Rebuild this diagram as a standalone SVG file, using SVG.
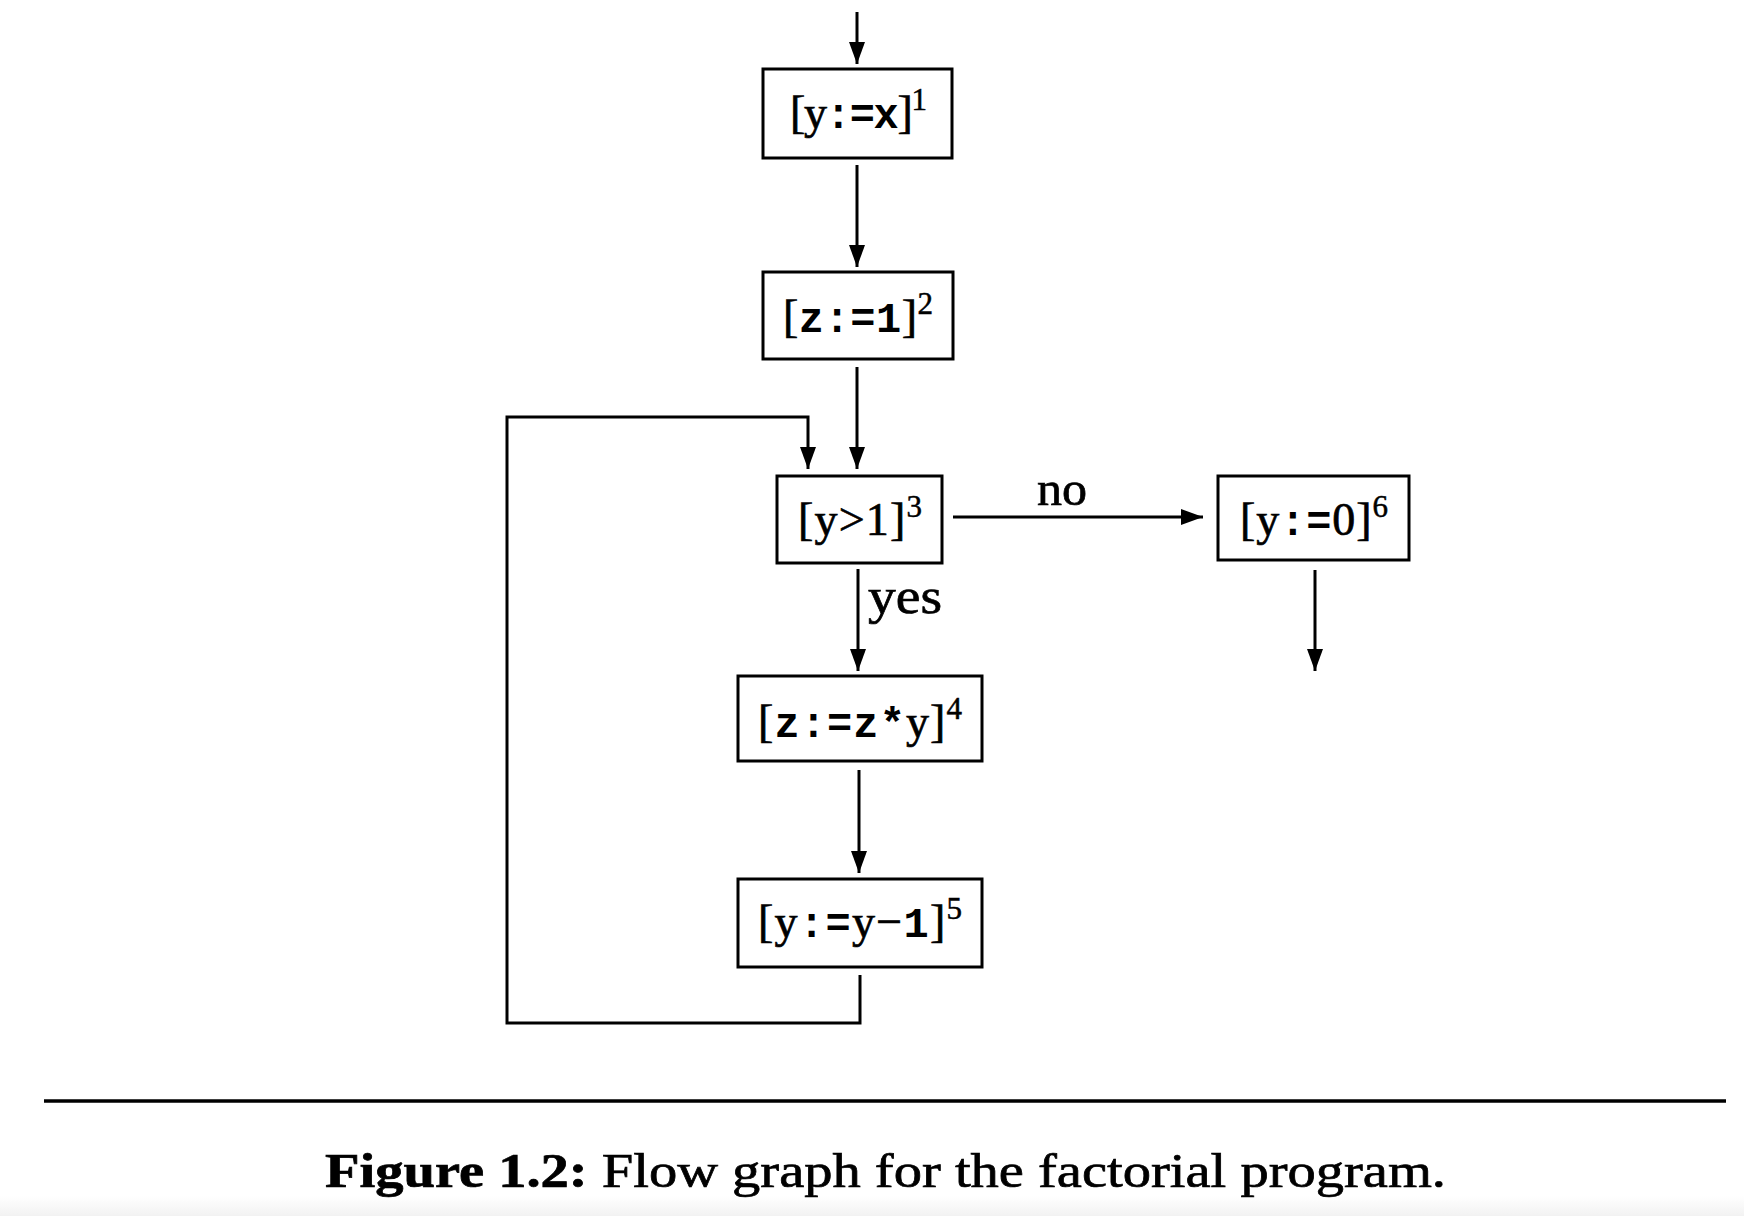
<svg xmlns="http://www.w3.org/2000/svg" width="1744" height="1216" viewBox="0 0 1744 1216">
<style>
.box{fill:#fff;stroke:#000;stroke-width:3}
.edge{fill:none;stroke:#000;stroke-width:3}
.lbl{font-family:"Liberation Serif",serif;fill:#000;stroke:#000;stroke-width:0.7}
.rm{font-family:"Liberation Serif",serif;font-size:46px;stroke:#000;stroke-width:0.7}
.tt{font-family:"Liberation Mono",monospace;font-weight:bold;font-size:42px}
.sup{font-family:"Liberation Serif",serif;font-size:31px;stroke:#000;stroke-width:0.5}
</style>
<defs>
<marker id="ah" markerUnits="userSpaceOnUse" markerWidth="24" markerHeight="18" refX="22" refY="8" orient="auto">
<path d="M0,0 L22,8 L0,16 Z" fill="#000"/>
</marker>
<linearGradient id="bg" x1="0" y1="0" x2="0" y2="1">
<stop offset="0" stop-color="#fff"/>
<stop offset="1" stop-color="#f2f2f2"/>
</linearGradient>
</defs>
<rect x="0" y="0" width="1744" height="1216" fill="#fff"/>
<rect x="0" y="1196" width="1744" height="20" fill="url(#bg)"/>

<g id="connectors">
<line class="edge" x1="857" y1="12" x2="857" y2="64" marker-end="url(#ah)"/>
<line class="edge" x1="857" y1="165" x2="857" y2="267" marker-end="url(#ah)"/>
<line class="edge" x1="857" y1="367" x2="857" y2="469" marker-end="url(#ah)"/>
<polyline class="edge" points="860,975 860,1023 507,1023 507,417 808,417 808,469" marker-end="url(#ah)"/>
<line class="edge" x1="953" y1="517" x2="1203" y2="517" marker-end="url(#ah)"/>
<line class="edge" x1="1315" y1="570" x2="1315" y2="671" marker-end="url(#ah)"/>
<line class="edge" x1="858" y1="569" x2="858" y2="671" marker-end="url(#ah)"/>
<line class="edge" x1="859" y1="770" x2="859" y2="873" marker-end="url(#ah)"/>
<text class="lbl" x="1037" y="505" font-size="48" textLength="50" lengthAdjust="spacingAndGlyphs">no</text>
<text class="lbl" x="868" y="613" font-size="50" textLength="74" lengthAdjust="spacingAndGlyphs">yes</text>
</g>

<g id="n1">
<rect class="box" x="763" y="69" width="189" height="89"/>
<text x="790" y="128" textLength="137"><tspan class="rm">[y</tspan><tspan class="tt">:=x</tspan><tspan class="rm">]</tspan><tspan class="sup" dy="-18">1</tspan></text>
</g>
<g id="n2">
<rect class="box" x="763" y="272" width="190" height="87"/>
<text x="783" y="332" textLength="150"><tspan class="rm">[</tspan><tspan class="tt">z:=1</tspan><tspan class="rm">]</tspan><tspan class="sup" dy="-18">2</tspan></text>
</g>
<g id="n3">
<rect class="box" x="777" y="476" width="165" height="87"/>
<text x="798" y="535" textLength="124"><tspan class="rm">[y&gt;1]</tspan><tspan class="sup" dy="-18">3</tspan></text>
</g>
<g id="n6">
<rect class="box" x="1218" y="476" width="191" height="84"/>
<text x="1240" y="535" textLength="148"><tspan class="rm">[y</tspan><tspan class="tt">:=</tspan><tspan class="rm">0]</tspan><tspan class="sup" dy="-18">6</tspan></text>
</g>
<g id="n4">
<rect class="box" x="738" y="676" width="244" height="85"/>
<text x="758" y="737" textLength="204"><tspan class="rm">[</tspan><tspan class="tt">z:=z*</tspan><tspan class="rm">y]</tspan><tspan class="sup" dy="-18">4</tspan></text>
</g>
<g id="n5">
<rect class="box" x="738" y="879" width="244" height="88"/>
<text x="758" y="937" textLength="204"><tspan class="rm">[y</tspan><tspan class="tt">:=</tspan><tspan class="rm">y−</tspan><tspan class="tt">1</tspan><tspan class="rm">]</tspan><tspan class="sup" dy="-18">5</tspan></text>
</g>

<line x1="44" y1="1101" x2="1726" y2="1101" stroke="#000" stroke-width="3.5"/>
<text class="lbl" x="325" y="1187" font-size="48" textLength="1121" lengthAdjust="spacingAndGlyphs"><tspan font-weight="bold">Figure 1.2:</tspan> Flow graph for the factorial program.</text>
</svg>
